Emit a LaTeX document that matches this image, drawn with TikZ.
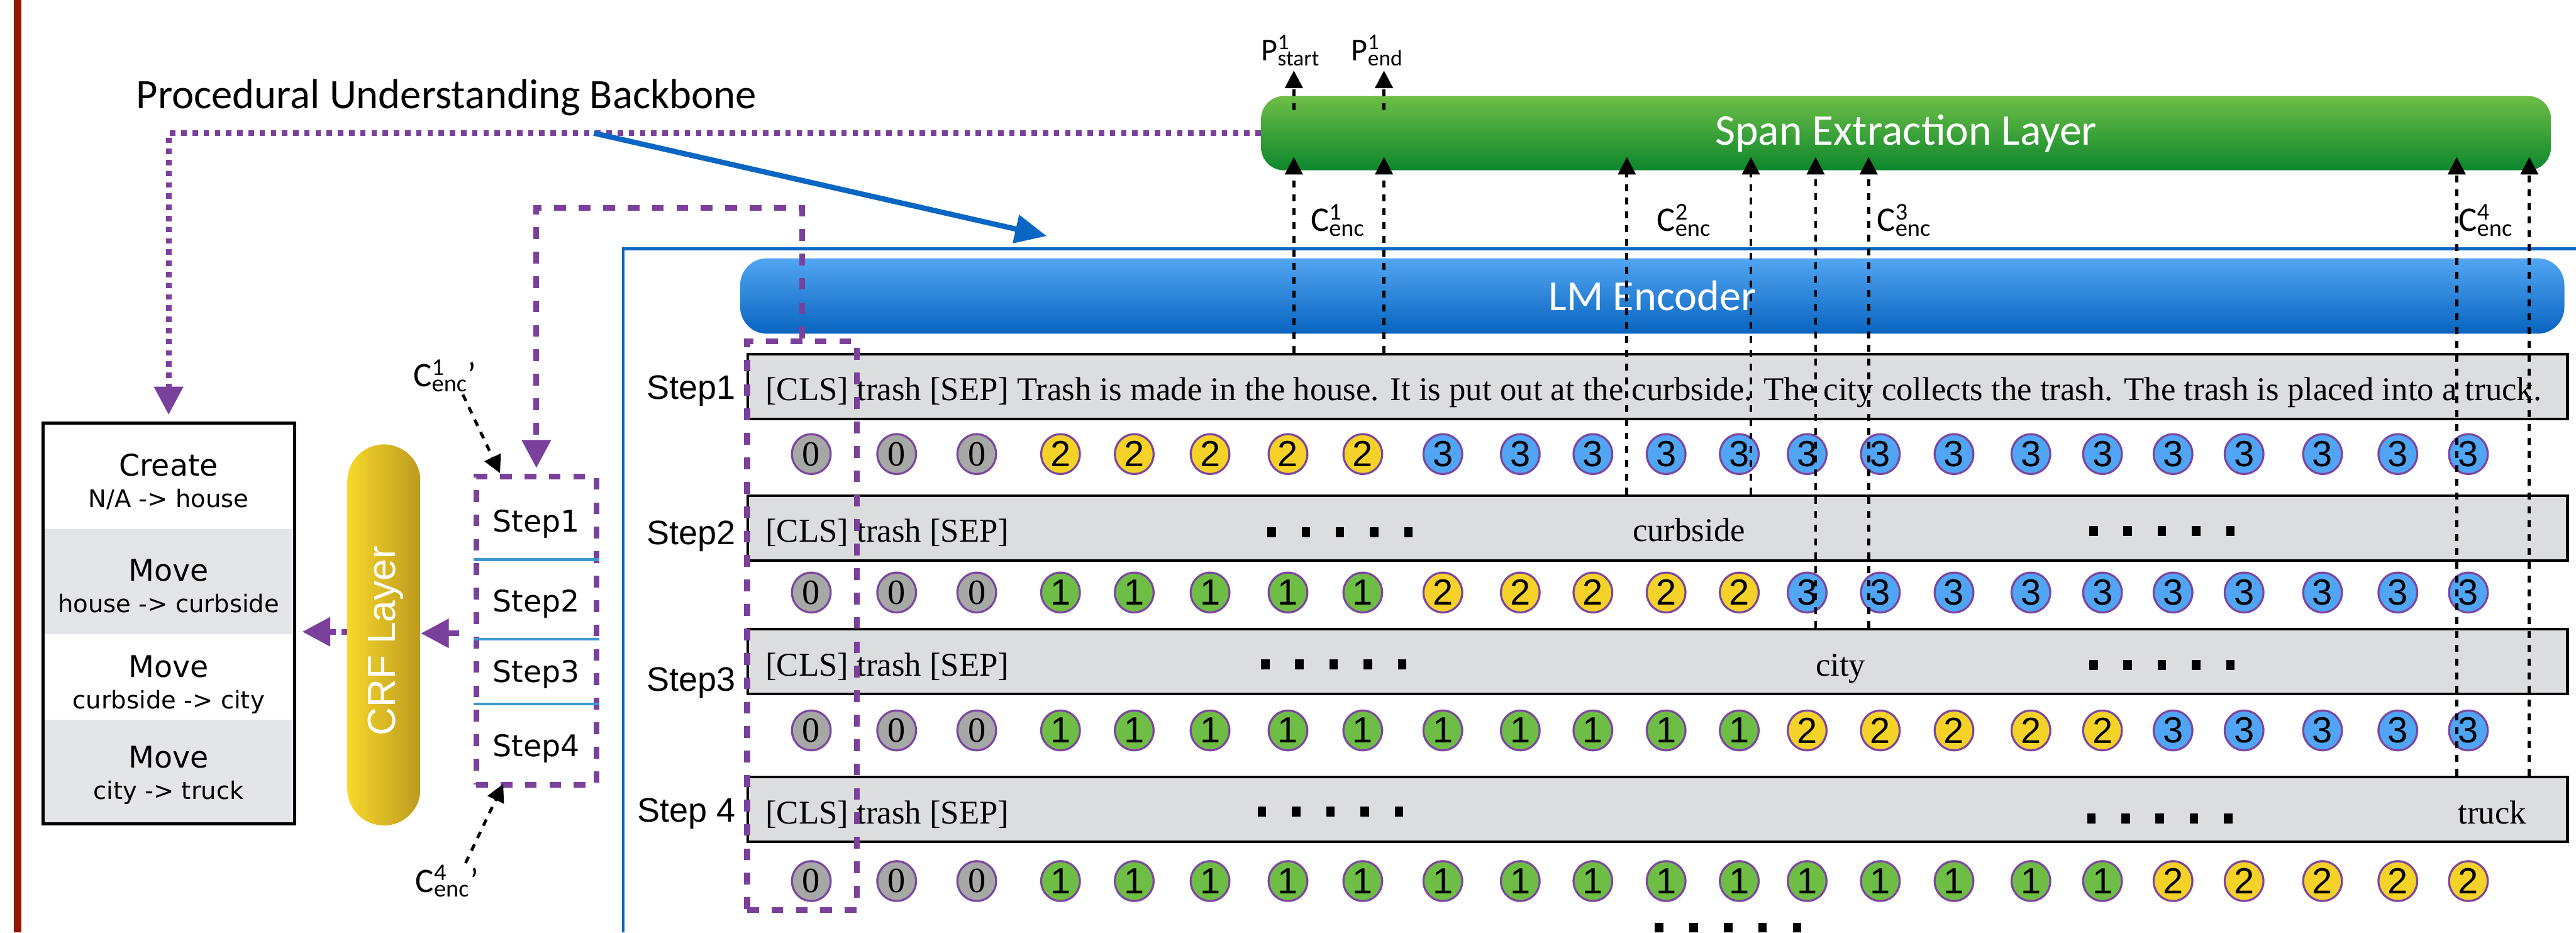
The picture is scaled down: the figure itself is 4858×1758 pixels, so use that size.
\documentclass[tikz,border=0pt]{standalone}
\usepackage{fontspec}
\usetikzlibrary{arrows.meta,shapes.geometric}

\newfontfamily\calfont{Carlito}
\newfontfamily\verafont{DejaVu Sans}
\newfontfamily\arialfont{Liberation Sans}
\newfontfamily\timesfont{Liberation Serif}

\newcommand\fsz[1]{\fontsize{#1}{#1}\selectfont}
\newcommand\supsub[3]{#1\rlap{\textsuperscript{#2}}\textsubscript{#3}}

\definecolor{pur}{RGB}{122,64,155}
\definecolor{marginred}{RGB}{152,22,0}
\definecolor{frameblue}{RGB}{10,102,194}
\definecolor{lmtop}{RGB}{82,166,242}
\definecolor{lmbot}{RGB}{8,100,192}
\definecolor{sptop}{RGB}{110,190,70}
\definecolor{spbot}{RGB}{12,135,45}
\definecolor{crfl}{RGB}{246,216,42}
\definecolor{crfr}{RGB}{190,154,32}
\definecolor{rowgray}{RGB}{220,221,223}
\definecolor{bandgray}{RGB}{228,229,232}
\definecolor{sepblue}{RGB}{58,154,208}
\definecolor{tokgray}{RGB}{166,168,166}
\definecolor{tokyellow}{RGB}{245,210,40}
\definecolor{tokblue}{RGB}{80,165,245}
\definecolor{tokgreen}{RGB}{110,190,70}
\definecolor{tokring}{RGB}{125,70,160}

\tikzset{
  purdash/.style={draw=pur, line width=3.1pt, dash pattern=on 6.3pt off 6.8pt},
  purdot/.style={draw=pur, line width=3.1pt, dash pattern=on 2.9pt off 3.1pt},
  purtip/.style={-{Triangle[length=15pt,width=15pt]}},
  blkdash/.style={draw=black, line width=1.6pt, dash pattern=on 3.7pt off 3.7pt},
  blktip/.style={-{Triangle[length=9.4pt,width=9.4pt]}},
  barbox/.style={draw=none, text=white, inner sep=0pt, font=\calfont\fsz{23.5pt}},
  rowbox/.style={draw, line width=1.4pt, fill=rowgray, minimum width=34.3cm,
    minimum height=1.22cm, inner sep=0pt},
  rowtext/.style={anchor=base west, inner sep=0pt, font=\timesfont\fsz{17.8pt}},
  steplabel/.style={anchor=base east, inner sep=0pt, font=\arialfont\fsz{18.2pt}},
  tok/.style={ellipse, draw=tokring, line width=1.1pt, minimum width=0.73cm,
    minimum height=0.75cm, inner sep=0pt, font=\arialfont\fsz{19.5pt}},
  tokfill0/.style={fill=tokgray, font=\timesfont\fsz{19pt}},
  tokfill1/.style={fill=tokgreen},
  tokfill2/.style={fill=tokyellow},
  tokfill3/.style={fill=tokblue},
  enclabel/.style={anchor=base west, inner sep=0pt, font=\calfont\fsz{18.5pt}},
  plabel/.style={anchor=base west, inner sep=0pt, font=\calfont\fsz{17pt}},
  statetitle/.style={anchor=base, inner sep=0pt, font=\verafont\fsz{16pt}},
  statesub/.style={anchor=base, inner sep=0pt, font=\verafont\fsz{13pt}},
  stepname/.style={anchor=base, inner sep=0pt, font=\verafont\fsz{16pt}},
  dotbar/.style={fill=black},
}

\begin{document}
\begin{tikzpicture}[x=0.01cm, y=-0.01cm]
\useasboundingbox (0,0) rectangle (4858,1758);
\fill[white] (0,0) rectangle (4858,1758);

% margin rule
\fill[marginred] (26,0) rectangle (40,1758);

% ---------- left part: predicted state changes ----------
\fill[bandgray] (84,998) rectangle (552,1196);
\fill[bandgray] (84,1357) rectangle (552,1550);
\node[draw, line width=1.7pt, minimum width=4.74cm, minimum height=7.55cm, inner sep=0pt]
  (states) at (318,1175.5) {};
\node[statetitle] (sa1) at (318,897)  {Create};
\node[statesub]   (sb1) at (318,957)  {N/A -> house};
\node[statetitle] (sa2) at (318,1095) {Move};
\node[statesub]   (sb2) at (318,1155) {house -> curbside};
\node[statetitle] (sa3) at (318,1277) {Move};
\node[statesub]   (sb3) at (318,1336) {curbside -> city};
\node[statetitle] (sa4) at (318,1448) {Move};
\node[statesub]   (sb4) at (318,1507) {city -> truck};

% CRF layer
\node[left color=crfl, right color=crfr, minimum width=1.38cm, minimum height=7.18cm,
  rounded corners=0.69cm, inner sep=0pt] (crf) at (724,1197) {};
\node[rotate=90, text=white, inner sep=0pt, font=\arialfont\fsz{21pt}] (crftext) at (727,1208) {CRF Layer};

% step encodings box
\node[purdash, minimum width=2.27cm, minimum height=5.8cm, inner sep=0pt] (steps) at (1011.5,1189) {};
\draw[sepblue, line width=1.4pt] (steps.west |- 0,1055) -- (steps.east |- 0,1055);
\draw[sepblue, line width=1.4pt] (steps.west |- 0,1205) -- (steps.east |- 0,1205);
\draw[sepblue, line width=1.4pt] (steps.west |- 0,1327) -- (steps.east |- 0,1327);
\node[stepname] (sn1) at (1011,1003) {Step1};
\node[stepname] (sn2) at (1011,1154) {Step2};
\node[stepname] (sn3) at (1011,1286) {Step3};
\node[stepname] (sn4) at (1011,1426) {Step4};

% arrows between steps, CRF and states
\coordinate (stepsOut) at (866,1194);
\draw[draw=pur, line width=3.1pt, purtip] (stepsOut) -- (crf.east |- stepsOut);
\coordinate (statesIn) at (570,1191);
\draw[purdot, purtip] (crf.west |- statesIn) -- (statesIn);

% encoder outputs fed to the step box
\node[enclabel] (cq1) at (779,729) {\supsub{C}{1}{enc}’};
\node[enclabel] (cq4) at (783,1682) {\supsub{C}{4}{enc}’};
\coordinate (cq1a) at (873,744);  \coordinate (cq1b) at (943,892);
\coordinate (cq4a) at (878,1627); \coordinate (cq4b) at (949,1478);
\draw[blkdash, blktip] (cq1a) -- (cq1b);
\draw[blkdash, blktip] (cq4a) -- (cq4b);

% ---------- title and backbone ----------
\node[anchor=base, inner sep=0pt, font=\calfont\fsz{22.5pt}] (title) at (842,205) {Procedural Understanding Backbone};

\node[barbox, top color=sptop, bottom color=spbot, minimum width=24.31cm, minimum height=1.40cm,
  rounded corners=0.43cm] (span) at (3594.5,251) {Span Extraction Layer};

\draw[purdot, purtip] (span.west) -| ([yshift=0.13cm]states.north);

\coordinate (bbA) at (1120,251);
\coordinate (bbB) at (1974,445);
\draw[frameblue, line width=2.85pt, -{Triangle[length=17pt,width=15pt]}] (bbA) -- (bbB);

% encoder frame
\draw[frameblue, line width=1.4pt] (1175,1758) -- (1175,469) -- (4858,469);

\node[barbox, font=\calfont\fsz{23pt}, top color=lmtop, bottom color=lmbot, minimum width=34.38cm,
  minimum height=1.42cm, rounded corners=0.5cm] (lm) at (3116,558) {LM Encoder};

% ---------- input rows ----------
\node[rowbox] (row1) at (3126,729) {};
\node[rowbox] (row2) at (3126,996) {};
\node[rowbox] (row3) at (3126,1247.5) {};
\node[rowbox] (row4) at (3126,1526) {};

\node[rowtext] (rt1) at (1443,755) {[CLS] trash [SEP] Trash is made in the house. It is put out at the curbside. The city collects the trash. The trash is placed into a truck.};
\node[rowtext] (rt2) at (1443,1022) {[CLS] trash [SEP]};
\node[rowtext] (rt3) at (1443,1274) {[CLS] trash [SEP]};
\node[rowtext] (rt4) at (1443,1553) {[CLS] trash [SEP]};
\node[rowtext, anchor=base] (w2) at (3185,1021) {curbside};
\node[rowtext, anchor=base] (w3) at (3471,1274) {city};
\node[rowtext, anchor=base] (w4) at (4700,1553) {truck};

\node[steplabel] (sl1) at (1388,753)  {Step1};
\node[steplabel] (sl2) at (1388,1027) {Step2};
\node[steplabel] (sl3) at (1388,1303) {Step3};
\node[steplabel] (sl4) at (1388,1549) {Step 4};

% elided tokens
\foreach \gx/\gy in {2390/994, 3940/991, 2378/1243, 3940/1244, 2372/1520, 3936/1534}{
  \foreach \k in {0,...,4}
    \fill[dotbar] (\gx+64.5*\k,\gy) rectangle ++(16,19);
}
\foreach \k in {0,...,4}
  \fill[dotbar] (3121+65*\k,1740) rectangle ++(16,18);

% token tags
\foreach \r/\yy in {1/856,2/1117,3/1377,4/1661}{
  \pgfmathtruncatemacro\oe{3+5*(\r-1)}
  \foreach \xx [count=\i] in {1530,1691,1842,2000,2139,2282,2429,2570,2721,2867,3004,3142,3280,3408,3546,3685,3830,3965,4098,4232,4380,4522,4655}{
    \pgfmathtruncatemacro\v{\i<=3 ? 0 : (\i<=\oe ? 1 : (\i<=\oe+5 ? 2 : 3))}
    \node[tok, tokfill\v] (t\r-\i) at (\xx,\yy) {\v};
  }
}

% [CLS] column and its link to the step box
\node[purdash, minimum width=2.07cm, minimum height=10.71cm, inner sep=0pt] (cls) at (1512.5,1179.5) {};
\draw[purdash, purtip] (cls.north) -- ++(0,-246) -| ([yshift=0.11cm]steps.north);

% ---------- encoder outputs to span extraction ----------
\foreach \n/\xx/\rr in {1/2440/1, 2/2610/1, 3/3068/2, 4/3302/2, 5/3424/3, 6/3524/3, 7/4633/4, 8/4770/4}{
  \coordinate (tip\n) at (\xx,296);
  \draw[blkdash, blktip] (tip\n |- row\rr.north) -- (tip\n);
}

\node[enclabel] (c1) at (2471,436) {\supsub{C}{1}{enc}};
\node[enclabel] (c2) at (3124,436) {\supsub{C}{2}{enc}};
\node[enclabel] (c3) at (3539,436) {\supsub{C}{3}{enc}};
\node[enclabel] (c4) at (4636,436) {\supsub{C}{4}{enc}};

% predicted span positions
\node[plabel] (pS) at (2378,115) {\supsub{P}{1}{start}};
\node[plabel] (pE) at (2548,115) {\supsub{P}{1}{end}};
\coordinate (pSa) at (2440,208); \coordinate (pSb) at (2440,133);
\coordinate (pEa) at (2610,208); \coordinate (pEb) at (2610,133);
\draw[blkdash, blktip] (pSa) -- (pSb);
\draw[blkdash, blktip] (pEa) -- (pEb);
\end{tikzpicture}
\end{document}
